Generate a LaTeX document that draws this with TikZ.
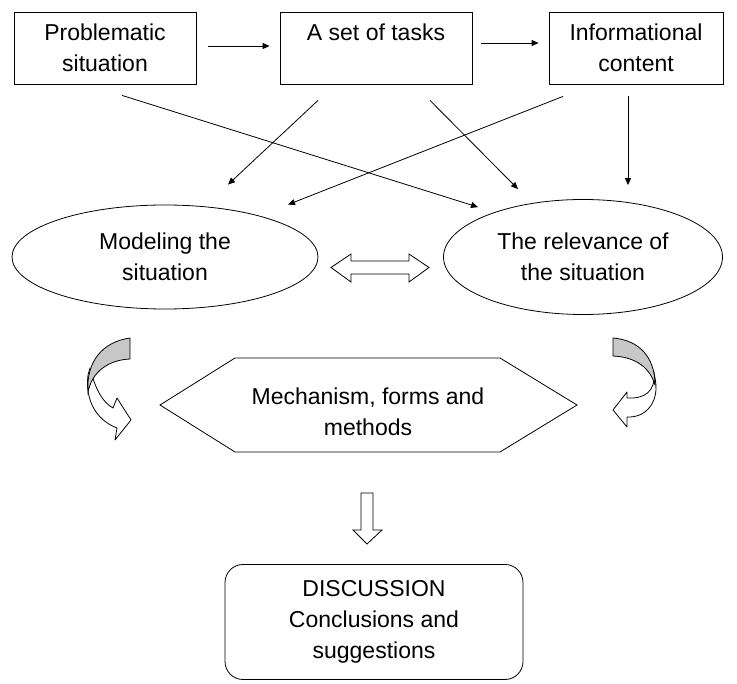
\documentclass[tikz,border=0pt]{standalone}
\usepackage{fontspec}
\setmainfont{Liberation Sans}
\usetikzlibrary{arrows.meta,calc,shapes.geometric}
\tikzset{>/.tip={Triangle[length=7pt,width=6pt]},
  topbox/.style={draw,align=center,inner sep=0pt,minimum height=72},
  oval/.style={draw,ellipse,align=center,inner sep=0pt},
  bandfill/.style={fill=black!22},
  blockarrow/.style={fill=white,line join=miter}}

\begin{document}
\begin{tikzpicture}[x=1pt,y=-1pt,line width=0.8pt,font=\fontsize{23}{31}\selectfont]
\useasboundingbox (0,0) rectangle (737,684);
\node[topbox,minimum width=182] (prob) at (105,48) {Problematic\\situation};
\node[topbox,minimum width=192] (tasks) at (376,48) {A set of tasks\\\phantom{x}};
\node[topbox,minimum width=174] (info) at (636,48) {Informational\\content};

\node[oval,minimum width=306,minimum height=104] (model) at (165,257) {Modeling the\\situation};
\node[oval,minimum width=279,minimum height=115] (relev) at (583,257) {The relevance of\\the situation};

\node[align=center] (mech) at (368,412) {Mechanism, forms and\\methods};
\node[draw,rounded corners=18,align=center,minimum width=298,minimum height=115,inner sep=0pt] (disc) at (374,622)
     {DISCUSSION\\Conclusions and\\suggestions};

% top row
\draw[->] ($(prob.east)+(12,-2)$) -- ($(tasks.west)+(-10,-2)$);
\draw[->] ($(tasks.east)+(9,-5)$) -- ($(info.west)+(-10,-5)$);

% crossing arrows
\draw[->] ($(prob.south)+(17,11)$) -- ($(relev.north)+(-105,8)$);
\draw[->] ($(tasks.south)+(-58,16)$) -- ($(model.north)+(63,-20)$);
\draw[->] ($(tasks.south)+(54,16)$) -- ($(relev.north)+(-65,-10)$);
\draw[->] ($(info.south)+(-73,12)$) -- ($(model.north)+(123,0)$);
\draw[->] ($(info.south)+(-8,12)$) -- ($(relev.north)+(45,-14)$);

% hexagon
\draw (160,405) -- (235,358) -- (500,358) -- (577,405) -- (500,452) -- (235,452) -- cycle;

% double arrow
\draw[blockarrow] (331,267.5) -- (351,254) -- (351,261) -- (409,261) -- (409,254) -- (429,267.5)
  -- (409,282) -- (409,274) -- (351,274) -- (351,282) -- cycle;

% down arrow
\draw[blockarrow] (361,493) -- (373,493) -- (373,530) -- (382,530) -- (367,544) -- (353,530) -- (361,530) -- cycle;

% curved arrow left
\draw[blockarrow,line join=round] (90,368) .. controls (96,392) and (104,403) .. (113,408) -- (117,398) -- (131,420)
  -- (115,440) -- (117,428) .. controls (96,420) and (85,400) .. (88,375) -- cycle;
\draw[bandfill] (130,338) .. controls (102,342) and (86,362) .. (88,392)
  .. controls (92,372) and (108,360) .. (130,359) -- cycle;

% curved arrow right
\draw[blockarrow,line join=round] (654,372) .. controls (656,392) and (644,399) .. (627,398) -- (627,392) -- (613,410)
  -- (627,427) -- (627,417) .. controls (646,418) and (660,402) .. (655,378) -- cycle;
\draw[bandfill] (613,338) .. controls (638,340) and (655,356) .. (655,385)
  .. controls (650,368) and (636,357) .. (613,356) -- cycle;
\end{tikzpicture}
\end{document}
